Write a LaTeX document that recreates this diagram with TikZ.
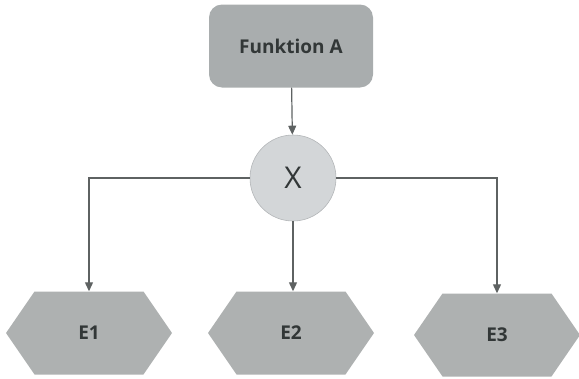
\documentclass[tikz,border=0pt]{standalone}
\usepackage{fontspec}
\setsansfont{Open Sans}
\usepackage{xcolor}
\usepackage{tikz}
\usetikzlibrary{shapes.symbols, arrows.meta}

\definecolor{funcgray}{HTML}{A9ADAE}
\definecolor{opgray}{HTML}{D3D6D8}
\definecolor{evgray}{HTML}{AEB1B1}
\definecolor{linegray}{HTML}{5E6262}
\definecolor{textgray}{HTML}{323737}

\begin{document}
\begin{tikzpicture}[x=1pt, y=-1pt,
  func/.style={rectangle, rounded corners=13pt, fill=funcgray, minimum width=164pt, minimum height=83pt, text=textgray, font=\sffamily\bfseries\fontsize{19}{22}\selectfont},
  op/.style={circle, fill=opgray, draw=opgray!85!black, line width=0.6pt, minimum size=86pt, inner sep=0pt, text=textgray, font=\sffamily\fontsize{30}{34}\selectfont},
  event/.style={signal, signal to=east and west, signal pointer angle=111, fill=evgray, minimum width=166pt, minimum height=83pt, inner sep=0pt, text=textgray, font=\sffamily\bfseries\fontsize{19}{22}\selectfont},
  flow/.style={draw=linegray, line width=1.2pt, -{Triangle[width=8pt,length=9pt]}}]
  \useasboundingbox (0,0) rectangle (579,378);
  % function and connector
  \node[func] (fa) at (291,46) {Funktion A};
  \node[op] (xor) at (293,178) {X};
  % events
  \node[event] (e1) at (89,333) {E1};
  \node[event] (e2) at (291,333) {E2};
  \node[event] (e3) at (497,335) {E3};
  \draw[flow] (fa) -- (xor);
  \draw[flow] (xor) -| (e1);
  \draw[flow] (xor.south) -- (xor.south |- e2.north);
  \draw[flow] (xor) -| (e3);
\end{tikzpicture}
\end{document}
